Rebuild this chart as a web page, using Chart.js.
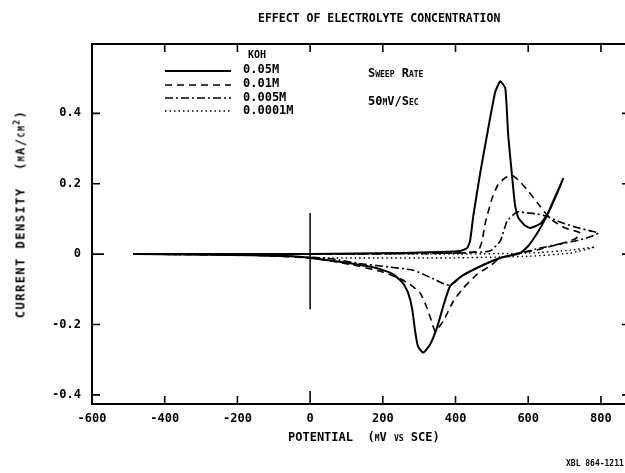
<!DOCTYPE html>
<html><head><meta charset="utf-8">
<script src="https://cdn.jsdelivr.net/npm/chart.js@4.4.1/dist/chart.umd.min.js"></script>
<style>
html,body{margin:0;padding:0;background:#fff;overflow:hidden;width:625px;height:473px;}
#wrap{position:absolute;left:0;top:0;width:640px;height:473px;}
.t{position:absolute;font-family:"DejaVu Sans Mono",monospace;color:#000;white-space:pre;line-height:1;font-weight:bold;}
.sc{font-variant:small-caps;}
</style></head><body>
<div id="wrap"><canvas id="c"></canvas></div>
<div class="t" style="left:258px;top:13px;font-size:11.5px;">EFFECT OF ELECTROLYTE CONCENTRATION</div>
<div class="t" style="left:288px;top:431px;font-size:12px;">POTENTIAL  <span class="sc">(mV vs</span> SCE)</div>
<div class="t" style="left:20px;top:214px;font-size:12px;letter-spacing:1.5px;transform:translate(-50%,-50%) rotate(-90deg);">CURRENT DENSITY  <span class="sc">(mA/cm</span><sup style="font-size:8px">2</sup>)</div>
<div class="t" style="left:248px;top:50px;font-size:10px;">KOH</div>
<div class="t" style="left:243px;top:63px;font-size:12px;">0.05M</div>
<div class="t" style="left:243px;top:77px;font-size:12px;">0.01M</div>
<div class="t" style="left:243px;top:91px;font-size:12px;">0.005M</div>
<div class="t" style="left:243px;top:104px;font-size:12px;">0.0001M</div>
<div class="t sc" style="left:368px;top:67px;font-size:12px;">Sweep Rate</div>
<div class="t" style="left:368px;top:95px;font-size:12px;"><span>50</span><span class="sc">mV/Sec</span></div>
<div class="t" style="left:566px;top:460px;font-size:8px;">XBL 864-1211</div>
<script>
// ---- data (potential in mV vs SCE, current density in mA/cm^2) ----
const xTicks = [-600, -400, -200, 0, 200, 400, 600, 800];
const yTicks = [-0.4, -0.2, 0, 0.2, 0.4];
const seriesNames = ["0.05M", "0.01M", "0.005M", "0.0001M"];

const potential005M = [-487,-303,0,248,358,413,432,440,449,468,490,509,523,537,545,556,564,573,589,605,633,655,674,696,
  669,647,625,600,578,523,476,421,385,366,350,330,311,297,289,281,270,256,228,184,110,0,-47,-165,-487];
const current005M = [0,0,0,0.003,0.006,0.009,0.017,0.037,0.109,0.231,0.357,0.46,0.491,0.471,0.337,0.217,0.137,0.103,0.083,0.074,0.086,0.117,0.16,0.214,
  0.151,0.1,0.06,0.023,0.003,-0.011,-0.031,-0.06,-0.091,-0.149,-0.206,-0.257,-0.28,-0.263,-0.22,-0.157,-0.111,-0.083,-0.057,-0.04,-0.026,-0.011,-0.006,-0.003,0];

const potential001M = [-487,0,413,462,473,482,501,517,537,556,572,597,625,647,669,702,743,
  729,688,633,578,523,495,460,421,394,366,344,336,322,303,275,239,193,110,0,-165,-487];
const current001M = [0,0,0.003,0.009,0.037,0.089,0.16,0.197,0.217,0.223,0.211,0.183,0.146,0.117,0.094,0.074,0.06,
  0.043,0.029,0.014,0.003,-0.011,-0.034,-0.057,-0.097,-0.134,-0.191,-0.22,-0.197,-0.154,-0.111,-0.086,-0.066,-0.049,-0.029,-0.011,-0.003,0];

const potential0005M = [-487,0,413,495,523,542,570,597,625,655,688,729,771,793,
  771,729,688,633,578,523,476,421,385,358,330,284,220,129,63,0,-165,-487];
const current0005M = [0,0,0.003,0.009,0.037,0.094,0.12,0.117,0.114,0.106,0.091,0.077,0.066,0.06,
  0.049,0.037,0.029,0.017,0.003,-0.011,-0.031,-0.06,-0.089,-0.08,-0.066,-0.046,-0.037,-0.026,-0.014,-0.009,-0.003,0];

const potential00001M = [-487,0,385,605,716,784,716,605,385,55,0,-165,-487];
const current00001M = [0,0,0,0.003,0.011,0.02,0.003,-0.006,-0.011,-0.011,-0.009,-0.003,0];

const markerPotential = [0, 0];
const markerCurrent = [0.117, -0.157];

// ---- build ----
const pts = (xs, ys) => xs.map((x, i) => ({x, y: ys[i]}));
const styles = [
  {borderWidth: 2, borderDash: []},
  {borderWidth: 1.6, borderDash: [7, 5]},
  {borderWidth: 1.6, borderDash: [8, 3, 2, 3]},
  {borderWidth: 1.4, borderDash: [1.5, 3]}
];
const seriesData = [
  pts(potential005M, current005M),
  pts(potential001M, current001M),
  pts(potential0005M, current0005M),
  pts(potential00001M, current00001M)
];
const datasets = seriesData.map((d, i) => ({
  label: seriesNames[i], data: d, showLine: true, pointRadius: 0,
  borderColor: '#000', backgroundColor: '#000', fill: false, tension: 0.15,
  borderWidth: styles[i].borderWidth, borderDash: styles[i].borderDash
}));
datasets.push({label: 'marker', data: pts(markerPotential, markerCurrent), showLine: true, pointRadius: 0,
  borderColor: '#000', borderWidth: 1.5, tension: 0});

const framePlugin = {
  id: 'frame',
  afterDatasetsDraw(chart) {
    const {ctx, chartArea: a, scales: {x, y}} = chart;
    ctx.save();
    ctx.strokeStyle = '#000';
    ctx.lineWidth = 2;
    ctx.strokeRect(a.left, a.top, a.right - a.left, a.bottom - a.top);
    ctx.lineWidth = 1.6;
    ctx.beginPath();
    xTicks.forEach(v => {
      const px = x.getPixelForValue(v);
      const len = v === 0 ? 13 : 8;
      ctx.moveTo(px, a.bottom); ctx.lineTo(px, a.bottom - len);
      ctx.moveTo(px, a.top); ctx.lineTo(px, a.top + 8);
    });
    yTicks.forEach(v => {
      const py = y.getPixelForValue(v);
      const len = v === 0 ? 12 : 8;
      ctx.moveTo(a.left, py); ctx.lineTo(a.left + len, py);
      ctx.moveTo(a.right, py); ctx.lineTo(a.right - 8, py);
    });
    ctx.stroke();
    // legend samples
    const ly = [71, 85, 98, 111];
    for (let i = 0; i < 4; i++) {
      ctx.beginPath();
      ctx.lineWidth = styles[i].borderWidth;
      ctx.setLineDash(styles[i].borderDash);
      ctx.moveTo(165, ly[i]); ctx.lineTo(231, ly[i]);
      ctx.stroke();
    }
    ctx.restore();
  }
};

new Chart(document.getElementById('c'), {
  type: 'scatter',
  data: {datasets},
  options: {
    responsive: true, maintainAspectRatio: false, animation: false,
    layout: {padding: {top: 44, right: 10, left: 0, bottom: 0}},
    plugins: {legend: {display: false}, tooltip: {enabled: false}, title: {display: false}},
    scales: {
      x: {
        type: 'linear', min: -600, max: 880,
        afterBuildTicks: s => { s.ticks = xTicks.map(v => ({value: v})); },
        afterFit: s => { s.height = 69; },
        grid: {display: false, drawTicks: false},
        border: {display: false},
        ticks: {color: '#000', padding: 8, maxRotation: 0, autoSkip: false,
          font: {family: 'DejaVu Sans Mono', size: 12, weight: 'bold'},
          callback: v => String(v)}
      },
      y: {
        type: 'linear', min: -0.426, max: 0.597,
        afterBuildTicks: s => { s.ticks = yTicks.map(v => ({value: v})); },
        afterFit: s => { s.width = 92; },
        grid: {display: false, drawTicks: false},
        border: {display: false},
        ticks: {color: '#000', padding: 11, autoSkip: false,
          font: {family: 'DejaVu Sans Mono', size: 12, weight: 'bold'},
          callback: v => (v === 0 ? '0' : v.toFixed(1))}
      }
    }
  },
  plugins: [framePlugin]
});
</script>
</body></html>
